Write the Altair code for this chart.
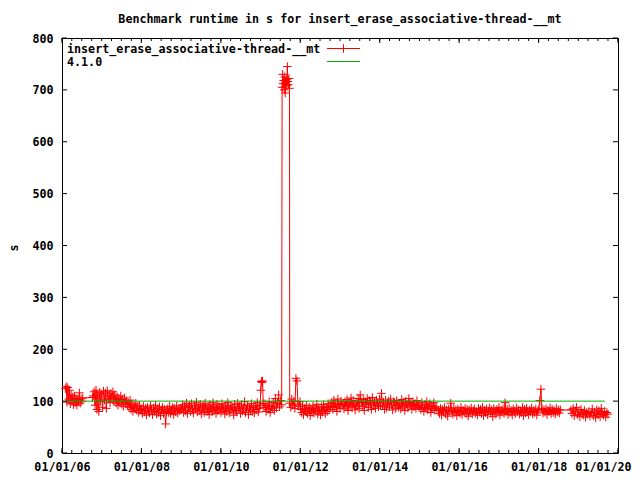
import altair as alt
import pandas as pd

TITLE = "Benchmark runtime in s for insert_erase_associative-thread-__mt"
SERIES = ["insert_erase_associative-thread-__mt", "4.1.0"]
Y_TITLE = "s"
REF_VALUE = 100
REF_RANGE = ("2006-02-01", "2019-09-01")
Y_TICKS = [0, 100, 200, 300, 400, 500, 600, 700, 800]
X_TICK_YEARS = [2006, 2008, 2010, 2012, 2014, 2016, 2018, 2020]

# runtime samples, grouped by date span (start, end, values)
seg_a = ("2006-02-01", "2006-07-10", [124, 128, 98, 126, 104, 121, 95, 112, 101, 108, 93, 110, 97, 105, 92, 103,
                                     99, 116, 96, 104, 100, 106])
seg_a2 = ("2006-10-08", "2006-10-08", [107])
seg_b = ("2006-10-15", "2007-05-01", [110, 118, 92, 121, 84, 112, 80, 117, 99, 114, 88, 119, 102, 116, 86, 120,
                                     104, 111, 97, 115, 106, 118, 100, 112])
seg_c = ("2007-05-05", "2007-08-25", [104, 96, 108, 92, 105, 98, 110, 94, 103, 90, 106, 97, 101, 93])
seg_d = ("2007-09-01", "2007-12-25", [97, 88, 102, 84, 94, 80, 91, 86, 96, 82, 89, 78, 92, 84])
seg_e = ("2008-01-01", "2008-12-28", [82, 76, 90, 79, 86, 73, 88, 81, 77, 91, 84, 74, 87, 80, 92, 75, 85, 78, 89, 72,
                                     83, 88, 76, 84, 56, 80, 85, 78, 90, 76, 83, 88, 74, 86, 79, 91, 77, 84, 81, 87])
seg_f = ("2009-01-05", "2010-12-20", [84, 93, 78, 90, 81, 96, 76, 88, 92, 80, 95, 83, 77, 91, 86, 98, 79, 89, 82, 94,
                                     75, 87, 92, 78, 96, 84, 80, 90, 74, 93, 85, 79, 97, 82, 88, 76, 94, 81, 90, 86,
                                     78, 95, 83, 89, 75, 92, 80, 97, 85, 77, 91, 84, 88, 73, 94, 82, 79, 96, 86, 90,
                                     76, 93, 81, 87, 99, 78, 85, 92, 74, 89, 83, 95, 80, 88, 77, 91, 84, 97, 79, 86])
seg_g = ("2010-12-28", "2011-01-25", [92, 121, 138, 136, 139, 95])
seg_h = ("2011-02-01", "2011-07-14", [88, 95, 80, 92, 84, 99, 78, 90, 86, 97, 82, 105, 87, 96, 112, 89, 101, 93])
seg_i = ("2011-07-18", "2011-09-24", [705, 730, 712, 718, 700, 725, 694, 715, 720, 708, 745, 716, 710, 722, 703])
seg_j = ("2011-09-26", "2011-12-30", [96, 88, 104, 92, 100, 86, 144, 139, 94, 90, 99])
seg_k = ("2012-01-05", "2012-10-01", [84, 78, 90, 74, 86, 80, 92, 76, 83, 88, 72, 85, 79, 91, 77, 86,
                                     81, 94, 75, 87, 82, 73, 89, 79, 93, 84, 76, 88, 80, 95, 83, 90])
seg_l = ("2012-10-08", "2014-12-28", [90, 98, 84, 102, 88, 95, 80, 104, 92, 86, 100, 93, 96, 85, 99, 89, 103, 82, 97, 91,
                                     106, 87, 101, 94, 83, 98, 90, 105, 86, 112,
                                     97, 90, 103, 82, 99, 94, 105, 88, 101, 96, 84, 107, 92, 98, 86, 102, 95, 89, 104, 91,
                                     115,
                                     91, 98, 84, 102, 87, 95, 100, 89, 104, 93, 83, 99, 97, 86, 101, 92, 88, 96, 85, 103,
                                     90, 98, 82, 100, 94, 87, 105, 91, 97, 84, 99, 89, 95, 86, 101, 92, 88])
seg_m = ("2015-01-05", "2015-06-10", [92, 84, 97, 88, 80, 94, 86, 99, 83, 90, 95, 78, 91, 85, 97, 82, 89, 86])
seg_n = ("2015-06-25", "2018-07-20", [82, 76, 86, 73, 84, 79, 88, 75, 83, 71, 85, 80,
                                     96,
                                     81, 75, 87, 78, 83, 72, 85, 80, 77, 88, 74, 82, 79, 86, 76, 84, 71, 83, 78, 87,
                                     75, 81, 85, 77, 80, 73, 86, 79, 84, 76, 88, 72, 82, 78, 85, 74, 81, 87, 77, 83,
                                     70, 86, 80, 75, 84, 78, 88, 73, 82, 79, 85, 76,
                                     97,
                                     79, 84, 74, 86, 78, 82, 73, 85, 80, 76, 87, 79, 83, 75, 81, 78, 88, 72, 84, 77,
                                     86, 80, 74, 83, 79, 87, 75, 82, 78, 85, 73, 81, 84,
                                     101, 123,
                                     86, 77, 83, 79, 85, 74, 82, 80, 87, 76, 84, 78, 81, 75, 86, 79, 83, 77, 83])
seg_o = ("2018-10-25", "2019-10-01", [83, 76, 86, 72, 81, 88, 74, 79, 70, 84, 77, 73, 82, 69, 78, 75, 80, 71, 77,
                                     85, 72, 79, 68, 83, 74, 81, 70, 86, 76, 73, 80, 69, 78, 75])

SEGMENTS = [seg_a, seg_a2, seg_b, seg_c, seg_d, seg_e, seg_f, seg_g, seg_h, seg_i,
            seg_j, seg_k, seg_l, seg_m, seg_n, seg_o]

frames = []
for start, end, vals in SEGMENTS:
    frames.append(pd.DataFrame({"date": pd.date_range(start, end, periods=len(vals)), "value": vals}))
df = pd.concat(frames, ignore_index=True)

ref_df = pd.DataFrame({"date": pd.to_datetime(list(REF_RANGE)), "value": [REF_VALUE, REF_VALUE]})

FONT = "DejaVu Sans Mono"
FS = 11.7
W, H = 556, 415
RED = "#ff0000"
GREEN = "#00b000"
PLUS = "M-1,0H1M0,-1V1"
MSIZE = 72

x_scale = alt.Scale(domain=[alt.DateTime(year=2006, month=1, date=1),
                            alt.DateTime(year=2020, month=1, date=1)], nice=False)
y_scale = alt.Scale(domain=[0, 800], nice=False)

x_axis = alt.Axis(values=[alt.DateTime(year=y, month=1, date=1) for y in X_TICK_YEARS],
                  format="%m/%d/%y", title=None, ticks=False, domain=False, grid=False,
                  labelFlush=False, labelOverlap=False, labelBound=False, labelPadding=8,
                  labelOffset={"condition": {"test": "year(datum.value) >= 2020", "value": -15}, "value": 0},
                  labelFont=FONT, labelFontSize=FS, labelFontWeight="bold", labelColor="black")
y_axis = alt.Axis(values=Y_TICKS, title=Y_TITLE, ticks=False, domain=False, grid=False,
                  labelFlush=False, labelOverlap=False, labelPadding=9,
                  labelFont=FONT, labelFontSize=FS, labelFontWeight="bold", labelColor="black",
                  titleFont=FONT, titleFontSize=FS, titleFontWeight="bold", titleColor="black",
                  titleX=-45, titleY=H / 2 + 2, titleAngle=-90, titleAlign="center",
                  titleBaseline="alphabetic")

XE = alt.X("date:T", scale=x_scale, axis=x_axis)
YE = alt.Y("value:Q", scale=y_scale, axis=y_axis)

line = alt.Chart(df).mark_line(color=RED, strokeWidth=1).encode(x=XE, y=YE)
pts = alt.Chart(df).mark_point(shape=PLUS, filled=False, color=RED, strokeWidth=1,
                               size=MSIZE, opacity=1).encode(x=XE, y=YE)
ref = alt.Chart(ref_df).mark_line(color=GREEN, strokeWidth=1).encode(x=XE, y=YE)

# tick marks (gnuplot-style inward, mirrored)
maj_df = pd.DataFrame({"date": pd.to_datetime([f"{y}-01-01" for y in X_TICK_YEARS])})
min_df = pd.DataFrame({"date": pd.date_range("2006-01-01", "2020-01-01", freq="QS")})
ytk_df = pd.DataFrame({"value": Y_TICKS})


def xticks(data, length):
    bot = alt.Chart(data).mark_rule(color="black", strokeWidth=1).encode(
        x=XE, y=alt.value(H), y2=alt.value(H - length))
    top = alt.Chart(data).mark_rule(color="black", strokeWidth=1).encode(
        x=XE, y=alt.value(0), y2=alt.value(length))
    return [bot, top]


yt_left = alt.Chart(ytk_df).mark_rule(color="black", strokeWidth=1).encode(
    y=YE, x=alt.value(0), x2=alt.value(5))
yt_right = alt.Chart(ytk_df).mark_rule(color="black", strokeWidth=1).encode(
    y=YE, x=alt.value(W), x2=alt.value(W - 5))

# key
key_df = pd.DataFrame({"label": SERIES})
key1 = alt.Chart(key_df.iloc[[0]]).mark_text(align="left", baseline="alphabetic", font=FONT, fontSize=FS,
                                              fontWeight="bold", color="black").encode(
    text="label:N", x=alt.value(5), y=alt.value(15))
key2 = alt.Chart(key_df.iloc[[1]]).mark_text(align="left", baseline="alphabetic", font=FONT, fontSize=FS,
                                              fontWeight="bold", color="black").encode(
    text="label:N", x=alt.value(5), y=alt.value(28))
key1_line = alt.Chart(key_df.iloc[[0]]).mark_rule(color=RED, strokeWidth=1).encode(
    x=alt.value(265), x2=alt.value(298), y=alt.value(10.5))
key1_pt = alt.Chart(key_df.iloc[[0]]).mark_point(shape=PLUS, filled=False, color=RED, strokeWidth=1,
                                                 size=MSIZE, opacity=1).encode(
    x=alt.value(281.5), y=alt.value(10.5))
key2_line = alt.Chart(key_df.iloc[[1]]).mark_rule(color=GREEN, strokeWidth=1).encode(
    x=alt.value(265), x2=alt.value(298), y=alt.value(23.5))

layers = [line, pts, ref] + xticks(maj_df, 5) + xticks(min_df, 3) + [yt_left, yt_right,
                                                                      key1, key2, key1_line, key1_pt, key2_line]

chart = alt.layer(*layers).properties(
    width=W, height=H,
    title=alt.TitleParams(TITLE, font=FONT, fontSize=FS, fontWeight="bold", color="black",
                          offset=7, anchor="middle", frame="group"),
    autosize=alt.AutoSizeParams(type="none"),
    padding={"left": 54, "top": 30, "right": 14, "bottom": 19},
    background="white",
).configure_view(stroke="black", strokeWidth=1)

chart.save("out.html", embed_options={"renderer": "svg", "actions": False})
